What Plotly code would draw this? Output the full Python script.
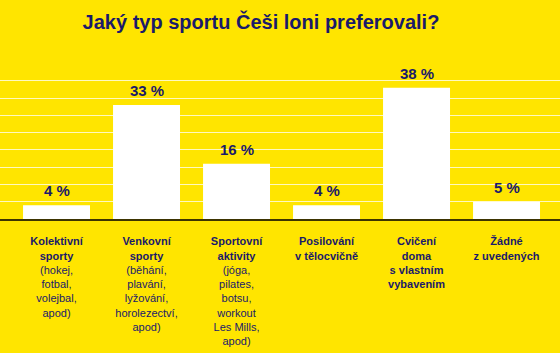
import plotly.graph_objects as go

categories = ["Kolektivní sporty", "Venkovní sporty", "Sportovní aktivity",
              "Posilování v tělocvičně", "Cvičení doma s vlastním vybavením",
              "Žádné z uvedených"]
values = [4, 33, 16, 4, 38, 5]
label_bold = [["Kolektivní", "sporty"], ["Venkovní", "sporty"], ["Sportovní", "aktivity"],
              ["Posilování", "v tělocvičně"], ["Cvičení", "doma", "s vlastním", "vybavením"],
              ["Žádné", "z uvedených"]]
label_regular = [["(hokej,", "fotbal,", "volejbal,", "apod)"],
                 ["(běhání,", "plavání,", "lyžování,", "horolezectví,", "apod)"],
                 ["(jóga,", "pilates,", "botsu,", "workout", "Les Mills,", "apod)"],
                 [], [], []]
grid_vals = [5, 10, 15, 20, 25, 30, 35, 40]
title_text = "Jaký typ sportu Češi loni preferovali?"

NAVY = "#1a1a6a"
YELLOW = "#FFE500"

ticktext = ["<br>".join(["<b>%s</b>" % s for s in b] + r)
            for b, r in zip(label_bold, label_regular)]

fig = go.Figure()
fig.add_trace(go.Bar(
    x=categories, y=values,
    marker=dict(color="white", line=dict(width=0)),
    hoverinfo="skip",
))

for c, v in zip(categories, values):
    fig.add_annotation(x=c, y=v, text="<b>%d %%</b>" % v, showarrow=False,
                       yanchor="bottom", yshift=4,
                       font=dict(family="Liberation Sans", size=15, color=NAVY))

fig.update_layout(
    width=560, height=353,
    margin=dict(l=0, r=0, t=60, b=134),
    paper_bgcolor=YELLOW, plot_bgcolor=YELLOW,
    bargap=0.256,
    showlegend=False,
    title=dict(text="<b>%s</b>" % title_text, x=261 / 560, xanchor="center",
               xref="paper", yref="container", y=1 - 22 / 353, yanchor="middle",
               font=dict(family="Liberation Sans", size=20, color=NAVY)),
    xaxis=dict(
        range=[-0.628, 5.594],
        tickmode="array", tickvals=categories, ticktext=ticktext,
        tickfont=dict(family="Liberation Sans", size=11, color=NAVY),
        showline=True, linecolor="#3d3400", linewidth=2,
        showgrid=False, ticks="", ticklabelstandoff=11,
        fixedrange=True,
    ),
    yaxis=dict(
        range=[0, 46], tickmode="array", tickvals=grid_vals,
        showticklabels=False, showgrid=True,
        gridcolor="rgba(255,255,255,0.75)", gridwidth=1,
        zeroline=False, fixedrange=True,
    ),
)

fig.write_html("out.html")
